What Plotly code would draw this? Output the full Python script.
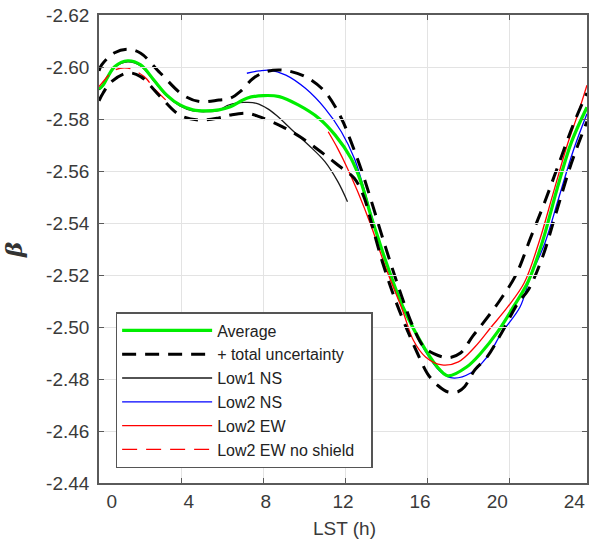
import plotly.graph_objects as go

# ---- data (LST hours, beta) ----
avg_h = [0.0, 0.2, 0.76, 1.4, 2.03, 2.67, 3.3, 3.94, 4.57, 5.2, 5.84, 6.4, 7.2, 8.0, 8.78, 9.7, 10.7,
         11.5, 12.27, 12.75, 13.2, 13.6, 14.0, 14.8, 15.9, 16.6, 17.0, 17.9, 18.6, 19.4, 20.2, 20.9,
         21.6, 22.3, 23.0, 23.76]
avg_b = [-2.5915, -2.5931, -2.6001, -2.6024, -2.6008, -2.5950, -2.5892, -2.5854, -2.5835, -2.5831,
         -2.5835, -2.5847, -2.5880, -2.5890, -2.5886, -2.5854, -2.5803, -2.5738, -2.5649, -2.5559,
         -2.5438, -2.5340, -2.5245, -2.5077, -2.4912, -2.4835, -2.4812, -2.4846, -2.4900, -2.4980,
         -2.5080, -2.5175, -2.5330, -2.5530, -2.5710, -2.5845]

unc_hi_h = [0.0, 0.13, 0.76, 1.4, 2.03, 2.98, 4.1, 4.9, 5.84, 6.4, 6.87, 7.5, 8.14, 8.94, 10.05, 11.0,
            11.8, 12.27, 12.75, 13.2, 13.9, 14.6, 15.3, 15.8, 16.3, 17.0, 17.6, 18.2, 18.7, 19.5, 20.3,
            21.0, 21.7, 22.4, 23.1, 23.76]
unc_hi_b = [-2.5985, -2.6008, -2.6055, -2.6068, -2.6053, -2.5977, -2.5892, -2.5867, -2.5873, -2.5880,
            -2.5905, -2.5956, -2.5982, -2.5988, -2.5963, -2.5905, -2.5803, -2.5713, -2.5610, -2.5500,
            -2.5320, -2.5150, -2.5000, -2.4925, -2.4898, -2.4882, -2.4900, -2.4965, -2.5015, -2.5100,
            -2.5200, -2.5340, -2.5480, -2.5630, -2.5780, -2.5900]

unc_lo_h = [0.0, 0.2, 0.6, 1.4, 2.03, 2.98, 3.94, 4.9, 5.84, 6.4, 7.2, 7.8, 8.94, 9.9, 10.8, 11.63,
            12.43, 12.9, 13.3, 13.8, 14.4, 15.0, 15.5, 16.0, 16.5, 17.0, 17.5, 17.8, 18.3, 18.9, 19.6,
            20.4, 20.9, 21.6, 22.3, 23.0, 23.76]
unc_lo_b = [-2.5870, -2.5900, -2.5943, -2.5977, -2.5963, -2.5886, -2.5815, -2.5796, -2.5804, -2.5815,
            -2.5822, -2.5809, -2.5770, -2.5726, -2.5674, -2.5623, -2.5572, -2.5500, -2.5390, -2.5250,
            -2.5110, -2.4990, -2.4900, -2.4820, -2.4775, -2.4750, -2.4752, -2.4770, -2.4835, -2.4885,
            -2.4977, -2.5092, -2.5142, -2.5270, -2.5450, -2.5630, -2.5790]

low1ns_h = [0.0, 0.2, 0.76, 1.4, 2.03, 2.67, 3.3, 3.94, 4.57, 5.2, 5.84, 6.24, 6.8, 7.2, 7.67, 8.2,
            8.62, 9.4, 10.2, 11.0, 11.63, 12.1]
low1ns_b = [-2.5912, -2.5928, -2.5998, -2.6020, -2.6004, -2.5946, -2.5888, -2.5850, -2.5831, -2.5828,
            -2.5833, -2.5852, -2.5863, -2.5864, -2.5860, -2.5840, -2.5815, -2.5758, -2.5700, -2.5636,
            -2.5559, -2.5482]

low2ns_h = [7.2, 7.8, 8.3, 9.1, 10.05, 11.0, 11.8, 12.43, 12.8, 13.3, 14.0, 14.8, 15.9, 16.6, 17.2,
            18.1, 18.9, 19.6, 20.5, 21.0, 21.7, 22.4, 23.1, 23.76]
low2ns_b = [-2.5976, -2.5985, -2.5988, -2.5969, -2.5918, -2.5841, -2.5751, -2.5649, -2.5559, -2.5420,
            -2.5240, -2.5080, -2.4905, -2.4830, -2.4804, -2.4823, -2.4885, -2.4977, -2.5077, -2.5192,
            -2.5320, -2.5500, -2.5680, -2.5820]

low2ew_h = [11.16, 11.6, 12.1, 12.6, 13.2, 14.0, 14.8, 15.3, 15.9, 16.7, 17.5, 18.3, 19.1, 19.9,
            20.7, 21.4, 22.1, 22.8, 23.3, 23.76]
low2ew_b = [-2.5751, -2.5690, -2.5610, -2.5520, -2.5400, -2.5220, -2.5060, -2.4950, -2.4885, -2.4854,
            -2.4866, -2.4923, -2.5000, -2.5077, -2.5169, -2.5320, -2.5510, -2.5700, -2.5815, -2.5930]

low2ewns_h = [0.0, 0.13, 0.76, 1.4, 2.2, 2.67, 3.4]
low2ewns_b = [-2.5925, -2.5937, -2.5988, -2.5996, -2.5963, -2.5919, -2.5862]

x_ticks = [0, 4, 8, 12, 16, 20, 24]
y_ticks = [-2.62, -2.60, -2.58, -2.56, -2.54, -2.52, -2.50, -2.48, -2.46, -2.44]
y_labels = ["-2.62", "-2.60", "-2.58", "-2.56", "-2.54", "-2.52", "-2.50", "-2.48", "-2.46", "-2.44"]

FONT = "Liberation Sans, Arial, sans-serif"
W, H = 598, 542
ML, MR, MT, MB = 99, 0, 15, 59
PW = W - ML - MR
X_MAX = PW / 21.0  # plot area ends at page edge

fig = go.Figure()

def add(x, y, name, color, width, dash="solid", rank=1, show=True, group=None):
    fig.add_trace(go.Scatter(
        x=x, y=y, mode="lines", name=name, line=dict(color=color, width=width, dash=dash, shape="spline"),
        legendrank=rank, showlegend=show, legendgroup=group or name, hoverinfo="skip"))

UNC_NAME = "+ total uncertainty" + "\u00a0" * 5  # trailing padding widens the legend box

add(low1ns_h, low1ns_b, "Low1 NS", "#1a1a1a", 1.3, rank=3)
add(low2ns_h, low2ns_b, "Low2 NS", "#0000ff", 1.3, rank=4)
add(avg_h, avg_b, "Average", "#00ee00", 3.2, rank=1)
add(low2ew_h, low2ew_b, "Low2 EW", "#ff0000", 1.3, rank=5)
add(low2ewns_h, low2ewns_b, "Low2 EW no shield", "#ff0000", 1.3, dash="15px,9px", rank=6)
add(unc_hi_h, unc_hi_b, UNC_NAME, "#000000", 3, dash="14px,9px", rank=2, group="unc")
add(unc_lo_h, unc_lo_b, UNC_NAME, "#000000", 3, dash="14px,9px", rank=2, show=False, group="unc")

# carrier for the tick-label axis
fig.add_trace(go.Scatter(x=[], y=[], xaxis="x2", showlegend=False, hoverinfo="skip"))

axis_col = "#5a5a5a"
grid_col = "#e3e3e3"
tick_font = dict(family=FONT, size=19, color="#3a3a3a")

fig.update_layout(
    width=W, height=H,
    margin=dict(l=ML, r=MR, t=MT, b=MB),
    paper_bgcolor="white", plot_bgcolor="rgba(0,0,0,0)",
    xaxis=dict(range=[0, X_MAX], tickvals=x_ticks, showticklabels=False, ticks="inside", ticklen=5,
               tickcolor=axis_col, tickwidth=1.2, showline=True, linecolor=axis_col, linewidth=1.6,
               mirror="ticks", showgrid=True, gridcolor=grid_col, gridwidth=1, zeroline=False),
    xaxis2=dict(range=[0, 24], domain=[13 / PW, (585 - ML) / PW], anchor="y", tickvals=x_ticks,
                ticks="", showline=False, showgrid=False, zeroline=False, tickfont=tick_font,
                ticklabelstandoff=5),
    yaxis=dict(range=[-2.44, -2.62], tickvals=y_ticks, ticktext=y_labels, ticks="inside", ticklen=5,
               tickcolor=axis_col, tickwidth=1.2, showline=True, linecolor=axis_col, linewidth=1.6,
               mirror="ticks", showgrid=True, gridcolor=grid_col, gridwidth=1, zeroline=False,
               tickfont=tick_font, ticklabelstandoff=4),
    legend=dict(x=(116 - ML) / PW, y=(483 - 312) / 468, xanchor="left", yanchor="top",
                bgcolor="white", bordercolor="#555555", borderwidth=1.5,
                font=dict(family=FONT, size=16, color="#222222"), itemwidth=90,
                tracegroupgap=0, traceorder="normal"),
    showlegend=True,
    annotations=[
        dict(text="<b><i>β</i></b>", xref="paper", yref="paper", x=(11 - ML) / PW, y=(483 - 250) / 468,
             showarrow=False, textangle=-90, font=dict(family="DejaVu Serif, serif", size=23, color="#333333"),
             xanchor="center", yanchor="middle"),
        dict(text="LST (h)", xref="paper", yref="paper", x=(350 - ML) / PW, y=(483 - 528) / 468,
             showarrow=False, font=dict(family=FONT, size=19, color="#3a3a3a"),
             xanchor="center", yanchor="middle"),
    ],
)

fig.write_html("out.html")
